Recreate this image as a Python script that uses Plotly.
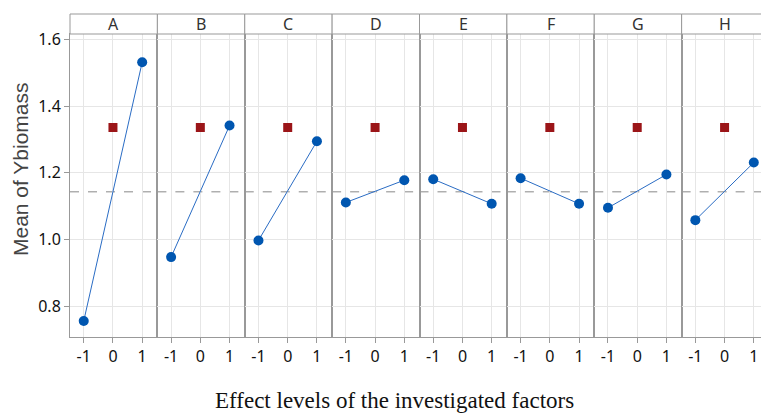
import plotly.graph_objects as go
from plotly.subplots import make_subplots

factors = ["A", "B", "C", "D", "E", "F", "G", "H"]
low_means = [0.755, 0.947, 0.997, 1.111, 1.181, 1.184, 1.095, 1.058]
high_means = [1.532, 1.342, 1.295, 1.178, 1.107, 1.107, 1.195, 1.231]
center_mean = 1.336
grand_mean = 1.143
levels = [-1, 0, 1]
level_labels = ["-1", "0", "1"]
y_ticks = [0.8, 1.0, 1.2, 1.4, 1.6]

OFF = 8  # default page body margin
W, H = 769 - OFF, 414 - OFF
ML, MR, MT, MB = 70 - OFF, 0, 34 - OFF, 77
plot_h = H - MT - MB
plot_w = W - ML - MR

fig = make_subplots(rows=1, cols=8, shared_yaxes=True, horizontal_spacing=0)

for i, f in enumerate(factors):
    c = i + 1
    fig.add_trace(go.Scatter(x=[levels[0], levels[2]], y=[low_means[i], high_means[i]],
                             mode="lines+markers",
                             line=dict(color="#2a6cc4", width=1),
                             marker=dict(color="#0056b0", size=10, symbol="circle"),
                             showlegend=False, hoverinfo="skip"), row=1, col=c)
    fig.add_trace(go.Scatter(x=[levels[1]], y=[center_mean], mode="markers",
                             marker=dict(color="#9b1518", size=9, symbol="square"),
                             showlegend=False, hoverinfo="skip"), row=1, col=c)
    fig.add_shape(type="line", xref=f"x{c if c > 1 else ''} domain", yref=f"y{c if c > 1 else ''}",
                  x0=0, x1=1, y0=grand_mean, y1=grand_mean,
                  line=dict(color="#888888", width=1, dash="dash"), layer="below")
    fig.update_xaxes(row=1, col=c, range=[-1.47, 1.52], tickvals=levels, ticktext=level_labels,
                     showgrid=True, gridcolor="#e6e6e6", gridwidth=1, zeroline=False,
                     showline=True, linecolor="#999999", linewidth=1, mirror=True,
                     ticks="outside", ticklen=5, tickcolor="#999999",
                     tickfont=dict(family="Noto Sans", size=16, color="#111111"), fixedrange=True)
    dom = fig.layout[f"xaxis{c if c > 1 else ''}"].domain
    fig.add_shape(type="rect", xref="paper", yref="paper", x0=dom[0], x1=dom[1],
                  y0=1, y1=1 + 20 / plot_h, line=dict(color="#999999", width=1),
                  fillcolor="white")
    fig.add_annotation(text=f, xref="paper", yref="paper", x=(dom[0] + dom[1]) / 2,
                       y=1 + 10 / plot_h, showarrow=False, xanchor="center", yanchor="middle",
                       font=dict(family="Noto Sans", size=16, color="#333333"))

fig.update_yaxes(range=[0.707, 1.617], tickvals=y_ticks, ticktext=[f"{v:.1f}" for v in y_ticks],
                 showgrid=True, gridcolor="#e6e6e6", gridwidth=1, zeroline=False,
                 showline=True, linecolor="#999999", linewidth=1, mirror=True,
                 fixedrange=True)
fig.update_yaxes(row=1, col=1, ticks="outside", ticklen=5, tickcolor="#999999",
                 tickfont=dict(family="Noto Sans", size=16, color="#111111"))

fig.add_annotation(text="Mean of Ybiomass", xref="paper", yref="paper",
                   x=(21 - 70) / plot_w, y=(337 - 169) / plot_h, textangle=-90, showarrow=False,
                   xanchor="center", yanchor="middle",
                   font=dict(family="Liberation Sans", size=21, color="#444444"))
fig.add_annotation(text="Effect levels of the investigated factors", xref="paper", yref="paper",
                   x=(394 - 70) / plot_w, y=-(401 - (414 - MB)) / plot_h, showarrow=False,
                   xanchor="center", yanchor="middle",
                   font=dict(family="Liberation Serif", size=23, color="#111111"))

fig.update_layout(width=W, height=H, margin=dict(l=ML, r=MR, t=MT, b=MB),
                  paper_bgcolor="white", plot_bgcolor="white")

fig.write_html("out.html")
